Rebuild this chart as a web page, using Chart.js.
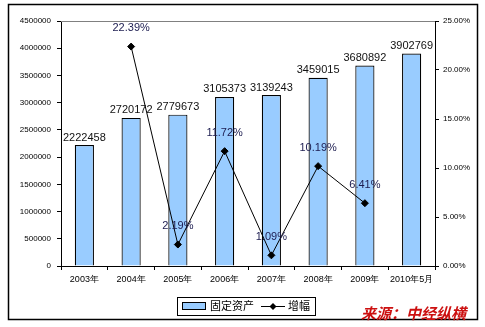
<!DOCTYPE html>
<html>
<head>
<meta charset="utf-8">
<script src="https://cdn.jsdelivr.net/npm/chart.js@4/dist/chart.umd.min.js"></script>
<style>
  html, body { margin: 0; padding: 0; background: #fff; }
  #wrap { width: 485px; height: 327px; }
</style>
</head>
<body>
<div id="wrap"><canvas id="chart" width="485" height="327"></canvas></div>
<script>
// fixed asset investment by year, with year-on-year growth
const years = ['2003年', '2004年', '2005年', '2006年', '2007年', '2008年', '2009年', '2010年5月'];
const assets = [2222458, 2720172, 2779673, 3105373, 3139243, 3459015, 3680892, 3902769];
const growth = [null, 22.39, 2.19, 11.72, 1.09, 10.19, 6.41, null];
const leftTicks = [0, 4500000, 500000];   // min, max, step
const rightTicks = [0, 25, 5];

const FONT = 'Arial, "Liberation Sans", sans-serif';

// value labels over bars and points
const valueLabels = {
  id: 'valueLabels',
  afterDatasetsDraw(chart) {
    const ctx = chart.ctx;
    ctx.save();
    ctx.font = '11px ' + FONT;
    ctx.textAlign = 'center';
    ctx.textBaseline = 'bottom';
    chart.getDatasetMeta(0).data.forEach((bar, i) => {
      ctx.fillStyle = '#111';
      ctx.fillText(String(assets[i]), bar.x, bar.y - 2);
    });
    chart.getDatasetMeta(1).data.forEach((pt, i) => {
      if (growth[i] == null) return;
      ctx.fillStyle = '#1c1c50';
      ctx.fillText(growth[i].toFixed(2) + '%', pt.x, pt.y - 13);
    });
    ctx.restore();
  }
};

// frame, top border of plot, legend box and source note
const decorations = {
  id: 'decorations',
  afterDraw(chart) {
    const ctx = chart.ctx;
    const a = chart.chartArea;
    ctx.save();
    ctx.strokeStyle = '#808080';
    ctx.lineWidth = 1;
    ctx.beginPath();
    ctx.moveTo(a.left, a.top + 0.5);
    ctx.lineTo(a.right, a.top + 0.5);
    ctx.stroke();

    ctx.strokeStyle = '#000';
    ctx.lineWidth = 1.5;
    ctx.strokeRect(8.5, 4.5, 469, 315);

    // legend
    ctx.lineWidth = 1;
    ctx.fillStyle = '#fff';
    ctx.fillRect(177.5, 297.5, 138, 18);
    ctx.strokeRect(177.5, 297.5, 138, 18);
    const ds = chart.data.datasets;
    ctx.fillStyle = ds[0].backgroundColor;
    ctx.fillRect(182.5, 302.5, 23, 7);
    ctx.strokeRect(182.5, 302.5, 23, 7);
    ctx.fillStyle = '#000';
    ctx.font = '11px "Noto Sans CJK SC", sans-serif';
    ctx.textBaseline = 'middle';
    ctx.textAlign = 'left';
    ctx.fillText(ds[0].label, 210, 306);
    ctx.beginPath();
    ctx.moveTo(261, 306.5);
    ctx.lineTo(285, 306.5);
    ctx.stroke();
    ctx.beginPath();
    ctx.moveTo(273, 303);
    ctx.lineTo(276.5, 306.5);
    ctx.lineTo(273, 310);
    ctx.lineTo(269.5, 306.5);
    ctx.closePath();
    ctx.fill();
    ctx.fillText(ds[1].label, 288, 306);

    // source
    ctx.fillStyle = '#cc1010';
    ctx.font = 'italic bold 15px "Noto Sans CJK SC", sans-serif';
    ctx.textAlign = 'left';
    ctx.fillText('来源：中经纵横', 361, 313);
    ctx.restore();
  }
};

new Chart(document.getElementById('chart'), {
  data: {
    labels: years,
    datasets: [
      {
        type: 'bar',
        label: '固定资产',
        data: assets,
        yAxisID: 'y',
        backgroundColor: '#99ccff',
        borderColor: '#000',
        borderWidth: 1.2,
        barPercentage: 0.41,
        categoryPercentage: 1,
        order: 1
      },
      {
        type: 'line',
        label: '增幅',
        data: growth,
        yAxisID: 'y1',
        borderColor: '#000',
        borderWidth: 1,
        pointStyle: 'rectRot',
        pointRadius: 3.5,
        pointBackgroundColor: '#000',
        pointBorderColor: '#000',
        spanGaps: false,
        tension: 0,
        order: 0
      }
    ]
  },
  options: {
    responsive: false,
    animation: false,
    layout: { padding: { top: 21, left: 0, right: 0, bottom: 0 } },
    plugins: { legend: { display: false }, tooltip: { enabled: false } },
    scales: {
      x: {
        grid: { offset: true, drawOnChartArea: false, color: '#000', tickLength: 4 },
        border: { color: '#000' },
        ticks: { color: '#000', font: { size: 9, family: FONT }, padding: 4, maxRotation: 0, autoSkip: false },
        afterFit(s) { s.height = 61; }
      },
      y: {
        position: 'left',
        min: leftTicks[0], max: leftTicks[1],
        grid: { drawOnChartArea: false, color: '#000', tickLength: 4 },
        border: { color: '#000' },
        ticks: {
          stepSize: leftTicks[2], color: '#000', font: { size: 8, family: FONT }, padding: 6,
          callback: v => String(v)
        },
        afterFit(s) { s.width = 61; }
      },
      y1: {
        position: 'right',
        min: rightTicks[0], max: rightTicks[1],
        grid: { drawOnChartArea: false, color: '#000', tickLength: 4 },
        border: { color: '#000' },
        ticks: {
          stepSize: rightTicks[2], color: '#000', font: { size: 8, family: FONT }, padding: 4,
          callback: v => v.toFixed(2) + '%'
        },
        afterFit(s) { s.width = 50; }
      }
    }
  },
  plugins: [valueLabels, decorations]
});
</script>
</body>
</html>
